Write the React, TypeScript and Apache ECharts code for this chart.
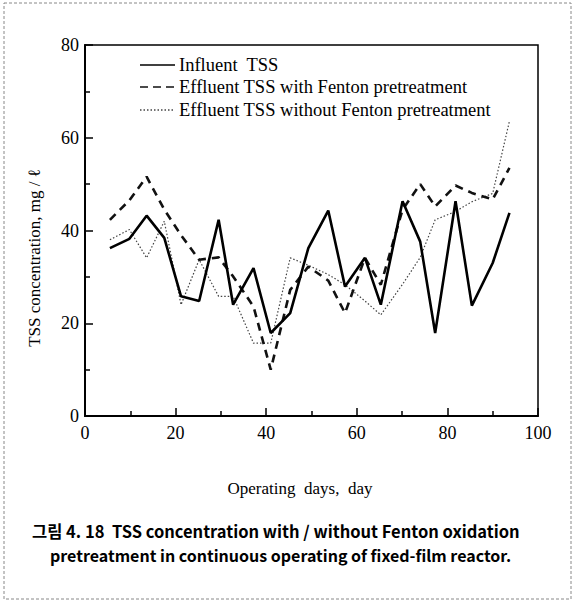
import React, { useEffect, useRef } from "react";
import * as echarts from "echarts";

const days = [5.5, 9.8, 13.6, 17.5, 21.2, 25.2, 29.5, 32.7, 37.2, 41, 45.3, 49.3, 53.7, 57.4, 61.8, 65.3, 70.1, 74, 77.3, 81.8, 85.4, 90, 93.7];
const influentTSS = [36.2, 38.2, 43.2, 38.4, 25.8, 24.8, 42.3, 24, 31.9, 17.9, 22.2, 36.2, 44.3, 27.9, 34.1, 24, 46.3, 37.6, 17.9, 46.3, 23.8, 33, 43.8];
const effluentWithFenton = [42.3, 46.5, 51.6, 44.5, 39, 33.7, 34.2, 30.1, 23.6, 10, 27.2, 32.2, 29.2, 22.2, 34.1, 28.3, 44.5, 50, 45.2, 49.7, 48.1, 46.7, 53.5];
const effluentWithoutFenton = [38, 40.2, 34.1, 42, 24, 33.7, 25.8, 25.8, 15.7, 15.7, 34.1, 32.5, 30.5, 28.3, 24.8, 21.8, 28.4, 34.2, 42.3, 44.1, 46.2, 48, 63.6];

const seriesNames = [
  "Influent  TSS",
  "Effluent TSS with Fenton pretreatment",
  "Effluent TSS without Fenton pretreatment",
];
const xTicks = [0, 20, 40, 60, 80, 100];
const yTicks = [0, 20, 40, 60, 80];
const yAxisTitle = "TSS concentration, mg / ℓ";
const xAxisTitle = "Operating  days,  day";
const captionLine1 = "그림 4. 18  TSS concentration with / without Fenton oxidation";
const captionLine2 = "pretreatment in continuous operating of fixed-film reactor.";

const serif = "'Liberation Serif', 'DejaVu Serif', serif";
const sans = "'Noto Sans CJK KR', 'Noto Sans', sans-serif";

const lineStyles = [
  { color: "#000", width: 2.6, type: "solid" as any },
  { color: "#111", width: 2.6, type: [8, 6] as any },
  { color: "#444", width: 1.2, type: [1.5, 2] as any },
];

const pairs = (ys: number[]) => days.map((d, i) => [d, ys[i]]);

export default function App() {
  const ref = useRef<HTMLDivElement>(null);
  useEffect(() => {
    if (!ref.current) return;
    const chart = echarts.init(ref.current, null, { renderer: "svg" });
    const legendRows = [65, 87, 110];
    const legendGraphics: any[] = [];
    seriesNames.forEach((name, i) => {
      const ls = lineStyles[i];
      legendGraphics.push({
        type: "line",
        shape: { x1: 140, y1: legendRows[i], x2: 175, y2: legendRows[i] },
        style: {
          stroke: ls.color,
          lineWidth: i === 2 ? 1.3 : 1.6,
          lineDash: i === 0 ? null : i === 1 ? [8, 5] : [1.5, 2],
        },
        silent: true,
      });
      legendGraphics.push({
        type: "text",
        x: 179,
        y: legendRows[i],
        style: {
          text: name,
          fontFamily: serif,
          fontSize: 18.5,
          fill: "#000",
          align: "left",
          verticalAlign: "middle",
        },
        silent: true,
      });
    });
    chart.setOption({
      animation: false,
      backgroundColor: "#fff",
      grid: {
        left: 85,
        right: 37,
        top: 45,
        bottom: 189,
        show: true,
        borderColor: "#000",
        borderWidth: 1.5,
        backgroundColor: "transparent",
      },
      xAxis: {
        type: "value",
        min: 0,
        max: 100,
        interval: 20,
        axisLine: { show: true, lineStyle: { color: "#000", width: 2 } },
        axisTick: { show: true, inside: true, length: 8, lineStyle: { color: "#000", width: 1.5 } },
        minorTick: { show: true, splitNumber: 2, length: 5, lineStyle: { color: "#000", width: 1.5 } },
        splitLine: { show: false },
        axisLabel: {
          fontFamily: serif,
          fontSize: 18,
          color: "#000",
          margin: 8,
          formatter: (v: number) => (xTicks.includes(v) ? String(v) : ""),
        },
      },
      yAxis: {
        type: "value",
        min: 0,
        max: 80,
        interval: 20,
        axisLine: { show: true, lineStyle: { color: "#000", width: 2 } },
        axisTick: { show: true, inside: true, length: 8, lineStyle: { color: "#000", width: 1.5 } },
        minorTick: { show: true, splitNumber: 2, length: 5, lineStyle: { color: "#000", width: 1.5 } },
        splitLine: { show: false },
        axisLabel: {
          fontFamily: serif,
          fontSize: 18,
          color: "#000",
          margin: 6,
          formatter: (v: number) => (yTicks.includes(v) ? String(v) : ""),
        },
      },
      series: [
        {
          name: seriesNames[0],
          type: "line",
          data: pairs(influentTSS),
          symbol: "none",
          lineStyle: lineStyles[0],
          z: 4,
        },
        {
          name: seriesNames[1],
          type: "line",
          data: pairs(effluentWithFenton),
          symbol: "none",
          lineStyle: lineStyles[1],
          z: 3,
        },
        {
          name: seriesNames[2],
          type: "line",
          data: pairs(effluentWithoutFenton),
          symbol: "none",
          lineStyle: lineStyles[2],
          z: 2,
        },
      ],
      graphic: [
        {
          type: "rect",
          shape: { x: 4, y: 3, width: 567, height: 596 },
          style: { fill: "none", stroke: "#888", lineWidth: 1, lineDash: [3, 2] },
          silent: true,
        },
        ...legendGraphics,
        {
          type: "text",
          x: 34,
          y: 258,
          rotation: Math.PI / 2,
          style: {
            text: yAxisTitle,
            fontFamily: serif,
            fontSize: 17,
            fill: "#000",
            align: "center",
            verticalAlign: "middle",
          },
        },
        {
          type: "text",
          x: 300,
          y: 488,
          style: {
            text: xAxisTitle,
            fontFamily: serif,
            fontSize: 17,
            fill: "#000",
            align: "center",
            verticalAlign: "middle",
          },
        },
        {
          type: "text",
          x: 32,
          y: 531,
          style: {
            text: captionLine1,
            fontFamily: sans,
            fontWeight: "bold",
            fontSize: 16.5,
            fill: "#000",
            align: "left",
            verticalAlign: "middle",
          },
        },
        {
          type: "text",
          x: 50,
          y: 555,
          style: {
            text: captionLine2,
            fontFamily: sans,
            fontWeight: "bold",
            fontSize: 16,
            fill: "#000",
            align: "left",
            verticalAlign: "middle",
          },
        },
      ],
    });
    return () => chart.dispose();
  }, []);
  return (
    <div
      ref={ref}
      style={{ position: "absolute", left: 0, top: 0, width: 575, height: 605, background: "#fff" }}
    />
  );
}
